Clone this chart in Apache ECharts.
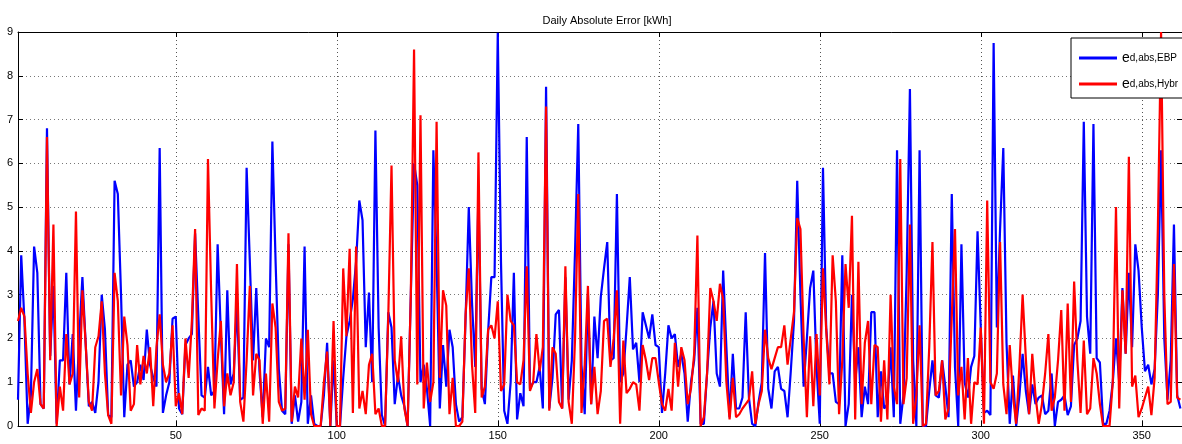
<!DOCTYPE html>
<html>
<head>
<meta charset="utf-8">
<script src="https://cdn.jsdelivr.net/npm/echarts@6/dist/echarts.min.js"></script>
<style>
html,body{margin:0;padding:0;background:#fff;}
#chart{width:1182px;height:444px;}
</style>
</head>
<body>
<div id="chart"></div>
<script>
const titleText = 'Daily Absolute Error [kWh]';
const seriesNames = ['e_d,abs,EBP', 'e_d,abs,Hybr'];
const legendSubs = ['d,abs,EBP', 'd,abs,Hybr'];
const yTicks = [0,1,2,3,4,5,6,7,8,9];

const ebp = [
0.6,3.9,2.4,0.05,0.7,4.1,3.5,0.5,0.4,6.8,
1.6,3.2,0.05,1.5,1.5,3.5,0.95,2.1,0.35,2.0,
3.4,1.9,0.45,0.55,0.3,1.0,3.0,2.2,0.25,0.2,
5.6,5.3,3.0,0.2,1.4,1.5,0.9,1.0,1.4,1.05,
2.2,1.4,1.1,0.9,6.35,0.3,0.7,1.0,2.45,2.5,
0.4,0.27,1.85,2.0,2.1,4.4,2.5,0.7,0.65,1.35,
0.7,0.8,4.15,2.1,0.27,3.1,0.95,1.2,2.8,0.6,
0.65,5.9,3.75,1.5,3.15,1.25,0.2,2.0,1.8,6.5,
3.75,1.3,0.35,0.27,4.15,0.05,0.7,0.1,0.55,4.1,
0.05,0.7,0.05,0,0,0.7,1.9,0,1.5,0,
0,1.1,2.05,2.4,2.9,3.75,5.15,4.7,1.8,3.05,
1.0,6.75,2.25,0.25,0,2.6,2.25,0.5,1.15,0.7,
0.45,0,3.0,6.0,5.5,1.0,1.4,0.85,0,6.3,
3.75,0.4,1.85,0.9,2.2,1.8,0.5,0.1,0.2,2.45,
5.0,2.8,1.35,5.35,0.85,0.5,2.15,3.4,3.4,8.98,
3.75,0.35,0.05,1.0,3.5,0.15,0.75,0.45,6.6,0.85,
1.0,1.0,1.35,0.4,7.75,0.4,1.1,2.55,2.65,0.4,
3.4,0.6,1.5,4.0,6.9,1.4,0.27,3.0,0.5,2.5,
1.55,2.95,3.6,4.2,1.5,1.55,5.3,1.0,1.2,2.25,
3.4,1.75,1.9,1.0,2.6,2.3,2.0,2.55,1.85,1.8,
0.3,1.2,2.3,2.0,2.1,1.35,1.65,1.2,0.1,1.0,
1.5,2.7,0.05,0.05,1.2,2.25,2.85,1.2,0.9,3.55,
1.8,0.2,1.65,0.4,0.4,0.65,2.6,0.65,0.05,0,
0.55,1.0,3.95,0.85,0.4,1.25,1.35,0.85,0.8,0.2,
1.25,2.4,5.6,3.0,0.9,2.0,3.15,3.55,1.35,0.05,
5.9,2.25,1.2,1.2,0.55,0.5,3.9,0,0.5,3.0,
1.0,1.8,0.2,0.9,0.5,2.6,2.6,0.2,1.25,0.4,
0.5,1.8,0.2,6.3,0.05,0.7,3.5,7.7,1.5,0,
6.3,0,0,0.8,1.5,0.7,0.65,1.5,0.9,0.2,
5.3,1.35,0,4.15,1.0,0.65,1.35,1.6,4.45,2.25,
0.3,0.35,0.25,8.75,2.25,4.5,6.35,1.9,0.05,1.15,
0,0.7,1.65,0.8,0.27,0.95,0.5,0.65,0.7,0.27,
0.35,1.2,0,0.55,0.6,0.7,0.25,0.45,1.85,2.0,
2.4,6.95,2.5,1.65,6.9,1.55,1.45,0.05,0.05,0.35,
1.0,2.0,1.0,3.15,1.65,3.5,1.8,4.15,3.55,2.25,
1.25,1.4,0.95,1.3,3.0,6.3,2.0,0.6,1.5,4.6,
0.7,0.4
];

const hybr = [
2.4,2.7,2.5,1.2,0.3,1.0,1.3,0.5,0.4,6.6,
1.5,4.6,0,0.9,0.35,2.1,0.95,1.2,4.9,0.65,
3.1,1.9,0.55,0.35,1.8,2.05,2.85,1.2,0.25,0.05,
3.5,2.85,0.7,2.5,1.85,0.35,0.5,1.85,0.95,1.6,
1.2,1.8,0.45,1.8,2.55,1.4,1.0,1.2,2.3,0.45,
0.75,0.27,2.0,1.1,2.4,4.5,0.25,0.4,0.35,6.1,
3.0,0.4,1.5,2.4,0.45,1.2,0.7,1.0,3.7,0.55,
0.1,1.5,3.2,0.7,1.65,1.5,0.05,1.2,0.1,2.8,
2.25,0.55,0.35,0.4,4.4,0.1,0.9,0.65,2.0,0.6,
2.2,0.27,0,0,0,1.0,1.7,0,2.4,0,
0,3.6,2.05,4.05,0.3,4.1,0.4,0.8,0.27,1.4,
1.65,0.27,0.4,0,0,2.5,5.95,1.5,1.0,2.05,
0.4,0,3.0,8.6,0.95,7.1,0.4,1.45,0.55,1.0,
6.95,1.1,3.1,2.75,0.27,1.1,0,0,0.1,2.55,
3.6,1.4,0.3,6.25,0.65,0.9,2.2,2.3,2.0,2.85,
0.8,0.95,3.0,2.4,2.3,1.0,0.95,1.5,3.65,0.8,
1.0,2.1,1.25,1.8,7.3,0.35,1.8,1.65,0.55,0.4,
3.65,0.55,0.05,2.0,5.3,0.3,1.4,3.2,0.5,1.35,
0.27,0.8,2.4,2.45,1.35,2.0,3.1,0.05,1.95,0.75,
0.85,1.0,0.95,0.35,1.85,1.5,1.05,1.55,1.55,1.0,
0.5,0.35,0.85,0.35,1.9,0.9,1.8,1.5,0.5,0.85,
1.65,4.35,0,0.2,1.2,3.15,2.85,2.4,3.25,2.9,
1.0,0.15,1.1,0.2,0.27,0.4,0.5,0.6,1.25,0.05,
0.5,0.8,2.2,1.55,1.3,1.55,1.8,1.8,2.3,1.4,
2.0,2.6,4.75,4.5,2.0,0.2,2.05,0.45,2.1,0.7,
3.6,2.2,0.95,3.9,2.85,0.27,1.5,3.7,2.7,4.8,
0.15,3.75,0.5,1.9,2.4,0.5,1.85,1.8,0.1,1.5,
0.15,3.0,0.9,0.5,6.1,0.5,1.1,4.6,0.05,0.7,
2.3,0,0.05,1.8,4.2,0.7,0.8,1.5,0.15,0.4,
2.5,4.5,0.7,1.35,0.15,1.55,0.05,1.0,0.95,2.25,
0.05,5.15,1.0,0.85,1.2,4.2,0.95,0.27,1.85,0.7,
0.05,1.35,3.0,1.55,0.27,1.65,0.7,0.05,0.5,1.2,
2.1,0.35,0.65,1.5,2.65,0.35,2.8,0.55,3.3,1.5,
0.3,1.95,0.27,0.4,1.55,1.2,0.5,0,0,0,
1.0,5.0,0.4,3.1,1.65,6.15,0.9,1.15,0.2,0.4,
0.65,0.9,0.25,1.1,4.5,9.0,3.0,0.5,0.55,3.7,
0.65,0.6
];

const days = ebp.map((_, i) => i + 1);
const toPairs = arr => arr.map((v, i) => [days[i], v]);

const chart = echarts.init(document.getElementById('chart'), null, {renderer: 'canvas'});
const FONT = 'Liberation Sans, Arial, Helvetica, sans-serif';
const grid = {left: 18, right: -1, top: 32, bottom: 18, containLabel: false};

const option = {
  backgroundColor: '#fff',
  animation: false,
  title: {
    text: titleText,
    left: 602,
    top: 10,
    textAlign: 'center',
    textStyle: {fontFamily: FONT, fontSize: 11, fontWeight: 'normal', color: '#000'}
  },
  grid: grid,
  legend: {
    orient: 'vertical',
    left: 1071,
    top: 38,
    backgroundColor: '#fff',
    borderColor: '#000',
    borderWidth: 1,
    borderRadius: 0,
    padding: [5, 8, 5, 8],
    itemGap: 2,
    itemWidth: 38,
    itemHeight: 3,
    icon: 'rect',
    data: seriesNames,
    formatter: function (name) {
      const i = seriesNames.indexOf(name);
      return '{e|e}{s|' + legendSubs[i] + '}';
    },
    textStyle: {
      fontFamily: FONT,
      color: '#000',
      rich: {
        e: {fontSize: 14, fontFamily: FONT, color: '#000', verticalAlign: 'top', lineHeight: 18, height: 18},
        s: {fontSize: 10, fontFamily: FONT, color: '#000', verticalAlign: 'bottom', lineHeight: 12, height: 18, padding: [6, 0, 0, 0]}
      }
    }
  },
  xAxis: [{
    type: 'value',
    min: 1,
    max: 362.5,
    splitNumber: 7,
    axisLine: {show: true, onZero: false, lineStyle: {color: '#000', width: 1}},
    axisTick: {show: true, inside: true, length: 5, lineStyle: {color: '#000'}},
    axisLabel: {show: true, color: '#000', fontFamily: FONT, fontSize: 11, margin: 4, showMinLabel: false, showMaxLabel: false},
    splitLine: {show: true, lineStyle: {color: '#555', type: [1, 3], width: 1}}
  }, {
    type: 'value',
    position: 'top',
    min: 1,
    max: 362.5,
    splitNumber: 7,
    axisLine: {show: true, onZero: false, lineStyle: {color: '#000', width: 1}},
    axisTick: {show: true, inside: true, length: 5, lineStyle: {color: '#000'}},
    axisLabel: {show: false},
    splitLine: {show: false}
  }],
  yAxis: [{
    type: 'value',
    min: 0,
    max: 9,
    interval: 1,
    axisLine: {show: true, onZero: false, lineStyle: {color: '#000', width: 1}},
    axisTick: {show: true, inside: true, length: 5, lineStyle: {color: '#000'}},
    axisLabel: {show: true, color: '#000', fontFamily: FONT, fontSize: 11, margin: 5,
      formatter: v => String(yTicks[v] !== undefined ? yTicks[v] : v)},
    splitLine: {show: true, lineStyle: {color: '#777', type: [1, 3], width: 1}}
  }, {
    type: 'value',
    position: 'right',
    min: 0,
    max: 9,
    interval: 1,
    axisLine: {show: true, onZero: false, lineStyle: {color: '#000', width: 1}},
    axisTick: {show: true, inside: true, length: 5, lineStyle: {color: '#000'}},
    axisLabel: {show: false},
    splitLine: {show: false}
  }],
  series: [{
    name: seriesNames[0],
    type: 'line',
    data: toPairs(ebp),
    showSymbol: false,
    symbol: 'none',
    lineStyle: {color: '#0000ff', width: 2.2},
    itemStyle: {color: '#0000ff'},
    z: 2
  }, {
    name: seriesNames[1],
    type: 'line',
    data: toPairs(hybr),
    showSymbol: false,
    symbol: 'none',
    lineStyle: {color: '#ff0000', width: 2.2},
    itemStyle: {color: '#ff0000'},
    z: 3
  }]
};
chart.setOption(option);
</script>
</body>
</html>
